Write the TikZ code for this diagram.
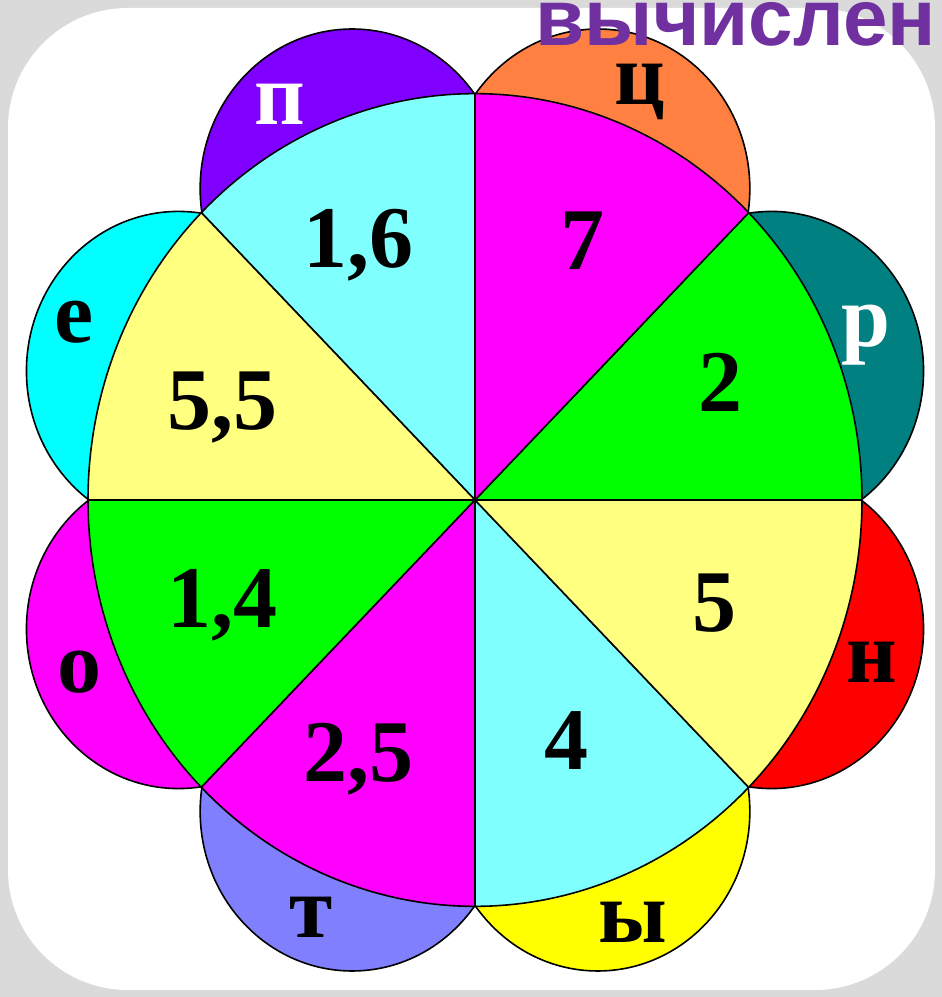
\documentclass[tikz,border=0pt]{standalone}
\usepackage{fontspec}
\setmainfont{Liberation Serif}
\newfontfamily\titlefont{Liberation Sans}
\usepackage{xcolor}
\usepackage{tikz}

\definecolor{bggray}{RGB}{218,218,218}
\definecolor{titlepurple}{RGB}{112,48,160}
% ---- petal colours ----
\definecolor{petalP}{RGB}{128,0,255}
\definecolor{petalC}{RGB}{255,128,64}
\definecolor{petalR}{RGB}{0,128,128}
\definecolor{petalN}{RGB}{255,0,0}
\definecolor{petalY}{RGB}{255,255,0}
\definecolor{petalT}{RGB}{128,128,255}
\definecolor{petalO}{RGB}{255,0,255}
\definecolor{petalE}{RGB}{0,255,255}
% ---- sector colours ----
\definecolor{secgreen}{RGB}{0,255,0}
\definecolor{secmag}{RGB}{255,0,255}
\definecolor{seccyan}{RGB}{128,255,255}
\definecolor{secyellow}{RGB}{255,255,128}

\begin{document}
\begin{tikzpicture}[
            x=1pt, y=1pt,
            % ---- styles ----
            petal/.style = {draw=black, line width=1.6pt},
            sector/.style = {draw=black, line width=1.6pt},
            num/.style = {font=\bfseries\fontsize{88}{88}\selectfont, anchor=base, inner sep=0pt},
            letter/.style = {font=\bfseries\fontsize{88}{88}\selectfont, anchor=base, inner sep=0pt}
        ]

        % ===================== background =====================
        \fill[bggray] (0,0) rectangle (942,997);
        \fill[white, rounded corners=120pt] (8,7) rectangle (935,989);
        \useasboundingbox (0,0) rectangle (942,997);

        % ===================== flower =====================
        \begin{scope}[shift={(475,497)}, y=1.05pt]
            % petals (circles through two neighbouring corners)
            \filldraw[petal, fill=petalR] (22.5:321) circle[radius=152];
            \filldraw[petal, fill=petalC] (67.5:321) circle[radius=152];
            \filldraw[petal, fill=petalP] (112.5:321) circle[radius=152];
            \filldraw[petal, fill=petalE] (157.5:321) circle[radius=152];
            \filldraw[petal, fill=petalO] (202.5:321) circle[radius=152];
            \filldraw[petal, fill=petalT] (247.5:321) circle[radius=152];
            \filldraw[petal, fill=petalY] (292.5:321) circle[radius=152];
            \filldraw[petal, fill=petalN] (337.5:321) circle[radius=152];

            % sectors of the middle
            \filldraw[sector, fill=secgreen] (0,0) -- (0:387) arc[start angle=0, end angle=45, radius=387] -- cycle;
            \filldraw[sector, fill=secmag] (0,0) -- (45:387) arc[start angle=45, end angle=90, radius=387] -- cycle;
            \filldraw[sector, fill=seccyan] (0,0) -- (90:387) arc[start angle=90, end angle=135, radius=387] -- cycle;
            \filldraw[sector, fill=secyellow] (0,0) -- (135:387) arc[start angle=135, end angle=180, radius=387] -- cycle;
            \filldraw[sector, fill=secgreen] (0,0) -- (180:387) arc[start angle=180, end angle=225, radius=387] -- cycle;
            \filldraw[sector, fill=secmag] (0,0) -- (225:387) arc[start angle=225, end angle=270, radius=387] -- cycle;
            \filldraw[sector, fill=seccyan] (0,0) -- (270:387) arc[start angle=270, end angle=315, radius=387] -- cycle;
            \filldraw[sector, fill=secyellow] (0,0) -- (315:387) arc[start angle=315, end angle=360, radius=387] -- cycle;
        \end{scope}

        % ---- numbers ----
        \node[num] (n16) at (358,729) {1,6};
        \node[num] (n7)  at (582,727) {7};
        \node[num] (n55) at (222,567) {5,5};
        \node[num] (n2)  at (720,585) {2};
        \node[num] (n14) at (222,369) {1,4};
        \node[num] (n5)  at (714,365) {5};
        \node[num] (n25) at (358,215) {2,5};
        \node[num] (n4)  at (566,227) {4};

        % ---- letters on the petals ----
        \node[letter, white] (lp) at (280,872) {п};
        \node[letter] (lc) at (640,892) {ц};
        \node[letter, white] (lr) at (866,650) {р};
        \node[letter] (ln) at (872,314) {н};
        \node[letter] (le) at (74,654) {е};
        \node[letter] (lo) at (79,304) {о};
        \node[letter] (lt) at (311,59) {т};
        \node[letter] (ly) at (633,54) {ы};

        % ---- title (cut at the right edge) ----
        \node[font=\titlefont\bfseries\fontsize{80}{80}\selectfont, text=titlepurple,
              anchor=base east, inner sep=0pt] (title) at (936,951) {вычислен};

\end{tikzpicture}
\end{document}
